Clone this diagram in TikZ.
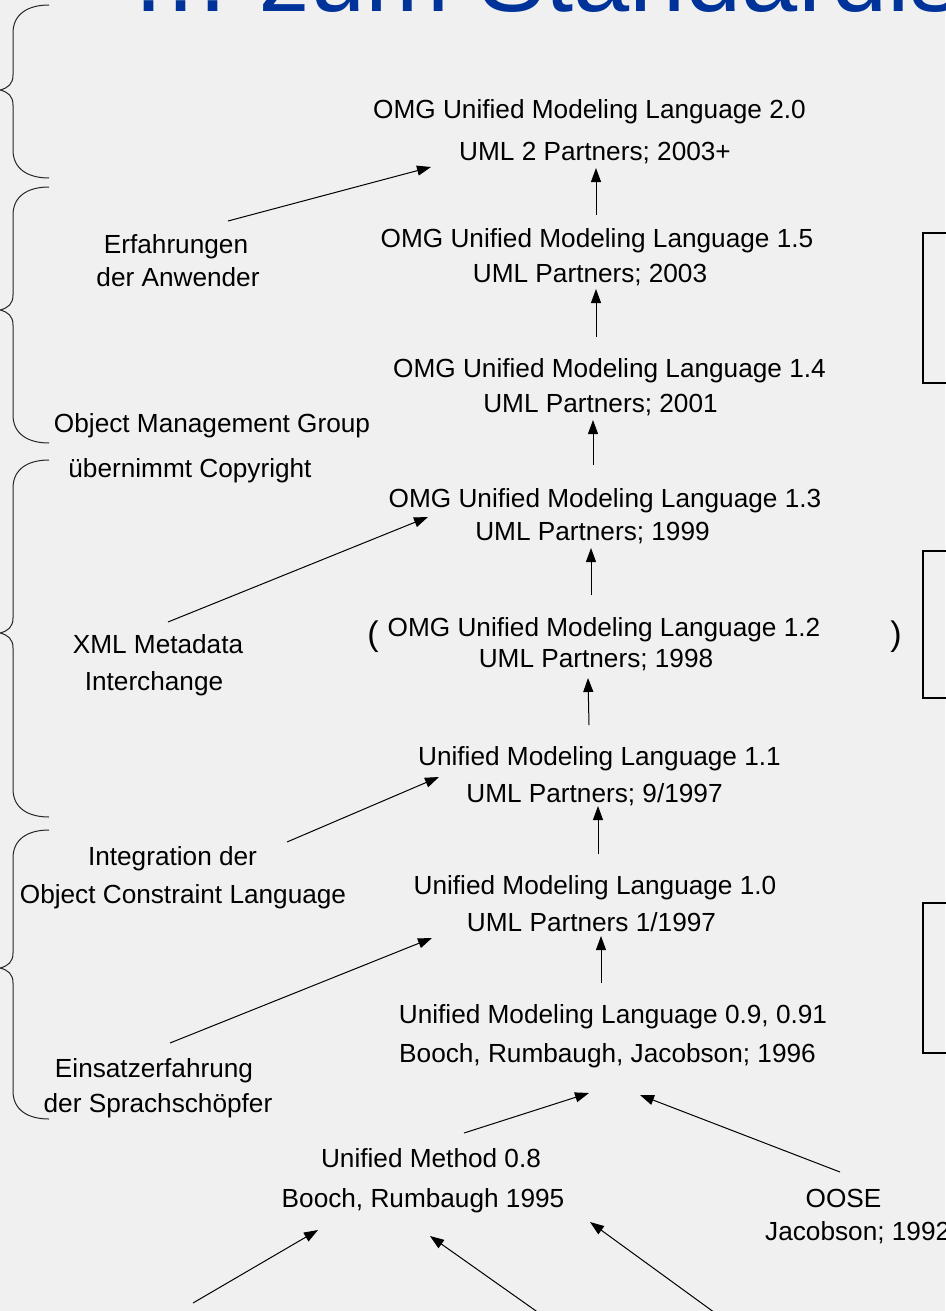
\documentclass[tikz,border=0pt]{standalone}
\usepackage{fontspec}
\setmainfont{Liberation Sans}
\usetikzlibrary{arrows.meta}
\definecolor{bg}{RGB}{240,240,240}
\definecolor{titleblue}{RGB}{0,51,153}
\begin{document}
\begin{tikzpicture}[x=1pt,y=-1pt,
  lbl/.style={anchor=base,inner sep=0pt,font=\fontsize{26.2pt}{31pt}\selectfont},
  lblw/.style={anchor=base west,inner sep=0pt,font=\fontsize{26.2pt}{31pt}\selectfont},
  paren/.style={anchor=base,inner sep=0pt,font=\fontsize{34pt}{40pt}\selectfont},
  titletext/.style={anchor=base west,inner sep=0pt,text=titleblue,font=\fontsize{101pt}{120pt}\selectfont},
  arr/.style={-{Triangle[length=14pt,width=10pt]},line width=1pt},
  bracepath/.style={line width=1pt,black!85},
  sidebox/.style={draw=black,line width=2pt}]
\useasboundingbox (0,0) rectangle (945,1311);
\fill[bg] (0,0) rectangle (945,1311);

% title
\node[titletext] (title) at (130,12) {… zum Standardis};

% main column
\node[lbl] (m20a) at (589.5,119) {OMG Unified Modeling Language 2.0};
\node[lbl] (m20b) at (595,160) {UML 2 Partners; 2003+};
\node[lbl] (m15a) at (597,247) {OMG Unified Modeling Language 1.5};
\node[lbl] (m15b) at (590,282) {UML Partners;\hspace{7pt}2003};
\node[lbl] (m14a) at (609.5,377) {OMG Unified Modeling Language 1.4};
\node[lbl] (m14b) at (600.5,412) {UML Partners; 2001};
\node[lbl] (m13a) at (605,507) {OMG Unified Modeling Language 1.3};
\node[lbl] (m13b) at (592.5,540) {UML Partners; 1999};
\node[paren] (pl) at (373,645) {(};
\node[lbl] (m12a) at (604,636) {OMG Unified Modeling Language 1.2};
\node[paren] (pr) at (896,645) {)};
\node[lbl] (m12b) at (596,667) {UML Partners; 1998};
\node[lbl] (m11a) at (599.5,765) {Unified Modeling Language 1.1};
\node[lbl] (m11b) at (594.5,802) {UML Partners; 9/1997};
\node[lbl] (m10a) at (595,894) {Unified Modeling Language 1.0};
\node[lbl] (m10b) at (591.5,931) {UML Partners 1/1997};
\node[lbl] (m09a) at (613,1023) {Unified Modeling Language 0.9, 0.91};
\node[lbl] (m09b) at (607.5,1062) {Booch, Rumbaugh, Jacobson; 1996};
\node[lbl] (um8a) at (431,1167) {Unified Method 0.8};
\node[lbl] (um8b) at (423,1207) {Booch, Rumbaugh 1995};
\node[lbl] (oosea) at (843.5,1207) {OOSE};
\node[lblw] (ooseb) at (765,1240) {Jacobson; 1992};

% left labels
\node[lbl] (erf1) at (176,253) {Erfahrungen};
\node[lbl] (erf2) at (178,286) {der Anwender};
\node[lbl] (omg1) at (212,432) {Object Management Group};
\node[lbl] (omg2) at (190,477) {übernimmt Copyright};
\node[lbl] (xmi1) at (158,653) {XML Metadata};
\node[lbl] (xmi2) at (154,690) {Interchange};
\node[lbl] (ocl1) at (172.5,865) {Integration der};
\node[lbl] (ocl2) at (183,903) {Object Constraint Language};
\node[lbl] (ein1) at (154,1077) {Einsatzerfahrung};
\node[lbl] (ein2) at (158,1112) {der Sprachschöpfer};

% right boxes (cut off at the edge)
\draw[sidebox] (923,233) rectangle (970,383);
\draw[sidebox] (923,551) rectangle (970,698);
\draw[sidebox] (923,903) rectangle (970,1053);

% braces
\draw[bracepath] (49,5) .. controls (28,5) and (13,14) .. (13,33) -- (13,75) .. controls (13,84) and (8,88) .. (0,90) .. controls (8,92) and (13,96) .. (13,105) -- (13,150) .. controls (13,169) and (28,178) .. (49,178);
\draw[bracepath] (49,187) .. controls (28,187) and (13,196) .. (13,215) -- (13,295) .. controls (13,304) and (8,308) .. (0,310) .. controls (8,312) and (13,316) .. (13,325) -- (13,415) .. controls (13,434) and (28,443) .. (49,443);
\draw[bracepath] (49,460) .. controls (28,460) and (13,469) .. (13,488) -- (13,618) .. controls (13,627) and (8,631) .. (0,633) .. controls (8,635) and (13,639) .. (13,648) -- (13,789) .. controls (13,808) and (28,817) .. (49,817);
\draw[bracepath] (49,830) .. controls (28,830) and (13,839) .. (13,858) -- (13,953) .. controls (13,962) and (8,966) .. (0,968) .. controls (8,970) and (13,974) .. (13,983) -- (13,1091) .. controls (13,1110) and (28,1119) .. (49,1119);

% connector end points
\coordinate (c1s) at (228,221);  \coordinate (c1e) at (431,167);
\coordinate (c2s) at (596,215);  \coordinate (c2e) at (596,168);
\coordinate (c3s) at (596,337);  \coordinate (c3e) at (596,289);
\coordinate (c4s) at (593,465);  \coordinate (c4e) at (593,420);
\coordinate (c5s) at (168,622);  \coordinate (c5e) at (428,517);
\coordinate (c6s) at (591,595);  \coordinate (c6e) at (591,548);
\coordinate (c7s) at (589,725);  \coordinate (c7e) at (588,678);
\coordinate (c8s) at (287,842);  \coordinate (c8e) at (439,777);
\coordinate (c9s) at (598,854);  \coordinate (c9e) at (598,806);
\coordinate (c10s) at (170,1043); \coordinate (c10e) at (432,938);
\coordinate (c11s) at (601,983);  \coordinate (c11e) at (601,936);
\coordinate (c12s) at (464,1133); \coordinate (c12e) at (589,1093);
\coordinate (c13s) at (840,1172); \coordinate (c13e) at (640,1095);
\coordinate (c14s) at (193,1303); \coordinate (c14e) at (318,1230);
\coordinate (c15s) at (546,1318); \coordinate (c15e) at (430,1236);
\coordinate (c16s) at (722,1318); \coordinate (c16e) at (590,1222);

\foreach \i in {1,...,16} { \draw[arr] (c\i s) -- (c\i e); }
\end{tikzpicture}
\end{document}
